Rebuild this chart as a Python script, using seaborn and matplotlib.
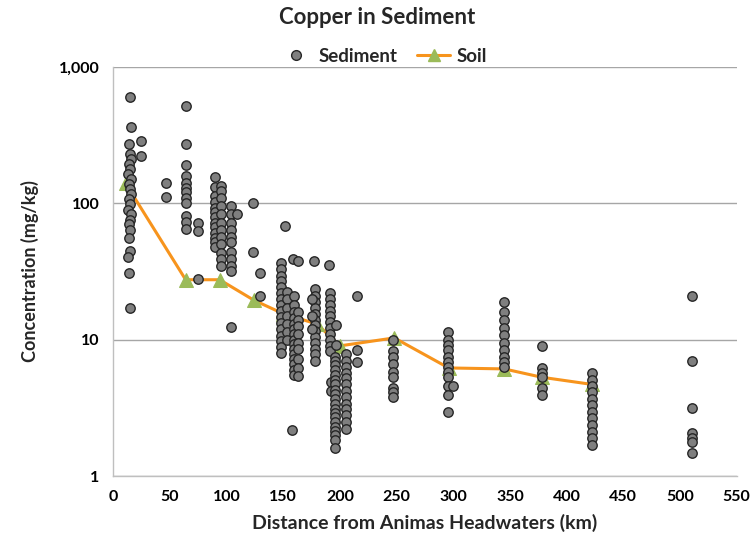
import matplotlib
matplotlib.use("Agg")
import matplotlib.pyplot as plt
import matplotlib.ticker as mticker
from matplotlib.lines import Line2D
import seaborn as sns
import pandas as pd

# ---- data ----
sediment_km = [
    15, 16, 14, 15, 16, 14, 15, 13, 16, 14, 15, 16, 14, 15, 13, 16, 15, 14, 15, 14, 15, 13, 14, 15,
    25, 25,
    47, 47,
    64, 64, 64, 64, 64, 64, 64, 64, 64, 64, 64, 64,
    75, 75, 75,
    90, 90, 90, 90, 90, 90, 90, 90, 90, 90, 90, 90, 90,
    95, 95, 95, 95, 95, 95, 95, 95, 95, 95, 95, 95,
    104, 104, 104, 104, 104, 104, 104, 104, 104, 104, 104,
    109, 123, 123, 130, 130, 152,
    148, 148, 148, 148, 148, 148, 148, 148, 148, 148, 148, 148, 148, 148, 148, 148,
    153, 153, 153, 153, 153, 153, 153,
    159, 160, 160, 160, 160, 160, 160, 160, 160, 160, 160, 160, 160, 160, 160, 160,
    163, 163, 163, 163, 163, 163, 163, 163, 163, 163,
    158,
    177, 178, 178, 178, 178, 178, 178, 178, 178, 178, 178, 178, 178, 178,
    175, 175, 175,
    190, 191, 191, 191, 191, 191, 191, 191, 191, 191, 191, 191,
    192, 192, 197, 197,
    196, 196, 196, 196, 196, 196, 196, 196, 196, 196, 196, 196, 196, 196, 196, 196, 196, 196, 196, 196,
    205, 205, 205, 205, 205, 205, 205, 205, 205, 205, 205, 205, 205,
    215, 215, 215,
    247, 247, 247, 247, 247, 247, 247, 247, 247,
    295, 295, 295, 295, 295, 295, 295, 295, 295, 295, 295, 295, 300,
    345, 345, 345, 345, 345, 345, 345, 345, 345, 345,
    378, 378, 378, 378, 378, 378,
    422, 422, 422, 422, 422, 422, 422, 422, 422, 422, 422, 422,
    511, 511, 511, 511, 511, 511, 511,
]
sediment_conc = [
    599, 360, 272, 229, 211, 194, 178, 163, 150, 138, 127, 116, 107, 98, 90, 83, 76, 70, 64, 56, 44.6, 40.7, 31, 17.2,
    286, 222,
    140, 111,
    520, 272, 190, 159, 142, 130, 120, 110, 100, 81, 73, 65,
    72, 62.5, 28,
    155, 131, 113, 102, 93, 86, 79, 72, 67, 61, 56, 52, 47.5,
    134, 123, 110, 95, 83, 72, 64, 57, 50, 43.5, 39, 34.5,
    95, 83, 72, 64, 57, 52, 44, 39, 34.5, 32, 12.3,
    84, 100, 44, 31, 21, 68,
    36.7, 32.8, 29.5, 26.7, 24.2, 21.9, 19.8, 18, 16.2, 14.6, 13.2, 11.9, 10.7, 9.7, 8.8, 8.0,
    22.2, 19.8, 17.2, 15, 13.1, 11.4, 10,
    39, 21, 18, 16, 14.5, 13, 12, 11, 10, 9.3, 8.5, 7.8, 7.2, 6.6, 6.0, 5.5,
    38, 16, 14, 12.5, 11, 9.5, 8.5, 7.2, 6.2, 5.4,
    2.18,
    37.5, 23.4, 21, 19, 17.2, 15.5, 14, 12.8, 11.5, 10.5, 9.5, 8.6, 7.8, 7.0,
    20, 15, 12,
    35, 22, 20, 18, 16.3, 14.8, 13.4, 12.2, 11, 10, 9, 8.3,
    4.9, 4.2, 12.9, 9.2,
    7.5, 7.0, 6.5, 6.0, 5.5, 5.1, 4.7, 4.3, 4.0, 3.7, 3.4, 3.1, 2.9, 2.7, 2.5, 2.3, 2.15, 2.0, 1.85, 1.6,
    7.8, 7.0, 6.3, 5.7, 5.2, 4.7, 4.2, 3.8, 3.4, 3.1, 2.8, 2.5, 2.2,
    21, 8.45, 6.8,
    10, 8.2, 7.4, 6.6, 5.8, 5.3, 4.4, 4.1, 3.8,
    11.3, 10, 9.2, 8.45, 7.5, 6.9, 6.3, 5.8, 5.3, 4.6, 3.9, 2.95, 4.6,
    19, 16, 14, 12.2, 10.9, 9.5, 8.45, 7.5, 6.9, 6.3,
    9.0, 6.2, 5.7, 5.3, 4.4, 3.9,
    5.7, 5.1, 4.6, 4.1, 3.7, 3.3, 2.95, 2.67, 2.37, 2.1, 1.9, 1.69,
    21, 7.0, 3.16, 2.07, 1.9, 1.78, 1.48,
]
soil_km = [11, 64, 94, 124, 150, 180, 200, 248, 296, 345, 378, 422]
soil_conc = [140, 27.5, 27.5, 19.5, 15.5, 13, 9, 10.3, 6.2, 6.1, 5.3, 4.7]

x_ticks = [0, 50, 100, 150, 200, 250, 300, 350, 400, 450, 500, 550]
y_ticks = [1, 10, 100, 1000]
y_tick_labels = ["1", "10", "100", "1,000"]

title = "Copper in Sediment"
x_label = "Distance from Animas Headwaters (km)"
y_label = "Concentration (mg/kg)"

sed_df = pd.DataFrame({"km": sediment_km, "conc": sediment_conc})
soil_df = pd.DataFrame({"km": soil_km, "conc": soil_conc})

# ---- style ----
sns.set_theme(style="white")
plt.rcParams["font.family"] = ["Lato", "DejaVu Sans"]
plt.rcParams["font.weight"] = "bold"

fig = plt.figure(figsize=(7.54, 5.44), dpi=100)
ax = fig.add_axes([0.150, 0.125, 0.827, 0.752])

point_color = "#7f7f7f"
edge_color = "#262626"
line_color = "#F7941D"
tri_color = "#9BBB59"

sns.lineplot(data=soil_df, x="km", y="conc", ax=ax, color=line_color, linewidth=2.2,
             marker="^", markersize=10, markerfacecolor=tri_color, markeredgecolor=tri_color,
             zorder=2.5, legend=False, estimator=None, sort=False)
sns.scatterplot(data=sed_df, x="km", y="conc", ax=ax, color=point_color,
                edgecolor=edge_color, linewidth=1.0, s=46, zorder=3, legend=False)

ax.set_yscale("log")
ax.set_xlim(0, 550)
ax.set_ylim(1, 1000)
ax.set_xticks(x_ticks)
ax.set_xticklabels([str(t) for t in x_ticks])
ax.set_yticks(y_ticks)
ax.set_yticklabels(y_tick_labels)
ax.xaxis.set_minor_locator(mticker.MultipleLocator(10))
ax.yaxis.set_minor_locator(mticker.LogLocator(base=10, subs=range(2, 10)))
ax.yaxis.set_minor_formatter(mticker.NullFormatter())

ax.grid(axis="y", which="major", color="#a6a6a6", linewidth=1.0)
ax.grid(axis="x", visible=False)
ax.set_axisbelow(True)
for side in ["top", "right"]:
    ax.spines[side].set_visible(False)
for side in ["left", "bottom"]:
    ax.spines[side].set_color("#bfbfbf")
    ax.spines[side].set_linewidth(1.0)

ax.tick_params(axis="both", which="both", direction="out", color="#bfbfbf", labelsize=11.5,
               labelcolor="#000000")
ax.tick_params(axis="both", which="major", length=4, width=1, pad=6)
ax.tick_params(axis="both", which="minor", length=3, width=0.8)
for lab in ax.get_xticklabels() + ax.get_yticklabels():
    lab.set_fontweight("bold")

ax.set_xlabel(x_label, fontsize=14, fontweight="bold", labelpad=7)
ax.set_ylabel(y_label, fontsize=13, fontweight="bold", labelpad=14)

fig.suptitle(title, fontsize=16, fontweight="bold", y=0.988)

handles = [
    Line2D([], [], linestyle="none", marker="o", markersize=7, markerfacecolor=point_color,
           markeredgecolor=edge_color, label="Sediment"),
    Line2D([], [], color=line_color, linewidth=2.2, marker="^", markersize=9,
           markerfacecolor=tri_color, markeredgecolor=tri_color, label="Soil"),
]
fig.legend(handles=handles, loc="center", bbox_to_anchor=(0.508, 0.897), ncol=2,
           frameon=False, handlelength=1.8, columnspacing=1.0,
           handletextpad=0.3, prop={"weight": "bold", "size": 13.5})

fig.savefig("out.png", dpi=100)
